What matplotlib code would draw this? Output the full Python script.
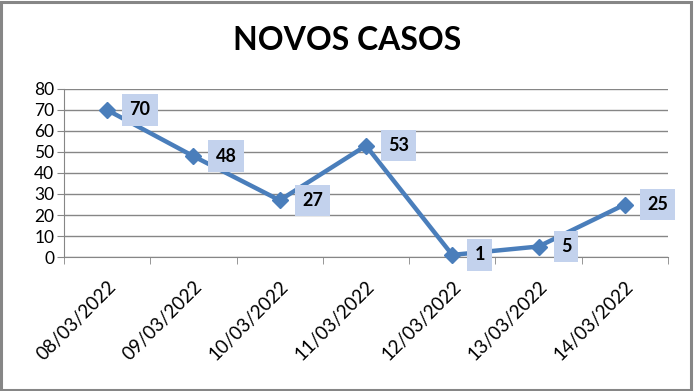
import matplotlib
matplotlib.use("Agg")
import matplotlib.pyplot as plt
from matplotlib.patches import Rectangle

dates = ["08/03/2022", "09/03/2022", "10/03/2022", "11/03/2022",
         "12/03/2022", "13/03/2022", "14/03/2022"]
values = [70, 48, 27, 53, 1, 5, 25]
yticks = [0, 10, 20, 30, 40, 50, 60, 70, 80]
title = "NOVOS CASOS"

plt.rcParams['font.family'] = ['Lato', 'DejaVu Sans']

fig = plt.figure(figsize=(6.94, 3.91), dpi=100)
fig.patch.set_facecolor('white')
fig.add_artist(Rectangle((0.002, 0.003), 0.994, 0.992, transform=fig.transFigure,
                         fill=False, edgecolor='#868686', linewidth=2.2))

ax = fig.add_axes([0.0922, 0.3427, 0.8703, 0.4297])
x = list(range(len(values)))
ax.plot(x, values, color='#4a7ebb', linewidth=3.2, marker='D', markersize=8.5,
        zorder=3, clip_on=False)

ax.set_xlim(-0.5, len(values) - 0.5)
ax.set_ylim(0, 80)
ax.set_yticks(yticks)
ax.set_yticklabels([str(v) for v in yticks], fontsize=12.5)
ax.yaxis.grid(True, color='#868686', linewidth=1)
ax.set_axisbelow(True)

ax.set_xticks(x)
ax.set_xticklabels(dates, rotation=45, ha='right', rotation_mode='anchor', fontsize=13.5)
ax.tick_params(axis='x', length=0, pad=15)
ax.set_xticks([i - 0.5 for i in range(len(values) + 1)], minor=True)
ax.tick_params(axis='x', which='minor', length=5, color='#868686')
ax.tick_params(axis='y', length=5, color='#868686', pad=2)

for s in ['top', 'right']:
    ax.spines[s].set_visible(False)
ax.spines['left'].set_color('#868686')
ax.spines['bottom'].set_color('#868686')

for xi, v in zip(x, values):
    ax.annotate(str(v), (xi, v), xytext=(16, 0), textcoords='offset points',
                ha='left', va='center', fontsize=13, fontweight='bold',
                bbox=dict(boxstyle='square,pad=0.4', facecolor='#c3d2ed',
                          edgecolor='none'), zorder=4, annotation_clip=False)

fig.text(0.5, 0.897, title, ha='center', va='center', fontsize=23, fontweight='bold')

fig.savefig('out.png', dpi=100)
